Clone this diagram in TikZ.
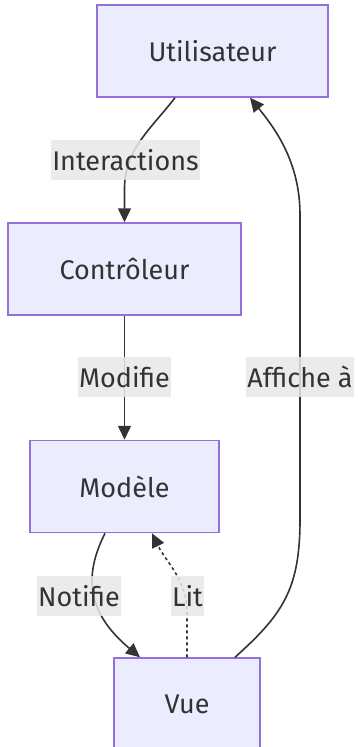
\documentclass[tikz,border=0pt]{standalone}
\usepackage{fontspec}
\setmainfont{Fira Sans}
\usetikzlibrary{arrows.meta,calc}
\definecolor{nodefill}{HTML}{ECECFF}
\definecolor{nodeborder}{HTML}{9370DB}
\definecolor{txt}{HTML}{333333}
\definecolor{edgecol}{HTML}{333333}
\definecolor{lblbg}{HTML}{E8E8E8}
\tikzset{
  box/.style={draw=nodeborder, fill=nodefill, line width=1.5pt, text=txt,
    font=\fontsize{27}{31}\selectfont, inner sep=0pt},
  lbl/.style={fill=lblbg, fill opacity=0.85, text opacity=1, text=txt,
    font=\fontsize{27}{31}\selectfont, inner xsep=1pt, inner ysep=0pt,
    minimum height=40pt},
  edge/.style={draw=edgecol, line width=1.6pt, -{Triangle[length=14pt,width=13pt]}},
  dotedge/.style={edge, dash pattern=on 3pt off 3pt},
}
\begin{document}
\begin{tikzpicture}[x=1pt,y=-1pt]
\useasboundingbox (0,0) rectangle (358,747);
% nodes
\node[box, minimum width=231pt, minimum height=92pt] (U) at (212.5,51) {Utilisateur};
\node[box, minimum width=233pt, minimum height=92pt] (C) at (124.5,269) {Contrôleur};
\node[box, minimum width=189pt, minimum height=92pt] (M) at (124.5,486.5) {Modèle};
\node[box, minimum width=146pt, minimum height=92pt] (V) at (187,704) {Vue};
% edges
\draw[edge] ($(U.south)+(-37.5,0)$) .. controls (150,130) and (124,150) .. (124.5,190) -- (C.north);
\draw[edge] (C.south) -- (M.north);
\draw[edge] ($(M.south)+(-19.5,0)$) .. controls (84,575) and (86,612) .. ($(V.north)+(-47,0)$);
\draw[dotedge] (V.north) -- (187,612) .. controls (187,580) and (166,562) .. ($(M.south)+(27.5,0)$);
\draw[edge] ($(V.north)+(48,0)$) .. controls (282,615) and (300,590) .. (300,520) -- (300,215)
  .. controls (300,165) and (278,132) .. ($(U.south)+(37.5,0)$);
% labels
\node[lbl] (l1) at (125.5,160) {Interactions};
\node[lbl] (l2) at (124.5,377) {Modifie};
\node[lbl] (l3) at (300,377) {Affiche à};
\node[lbl] (l4) at (79,596) {Notifie};
\node[lbl] (l5) at (187.5,596) {Lit};
\end{tikzpicture}
\end{document}
